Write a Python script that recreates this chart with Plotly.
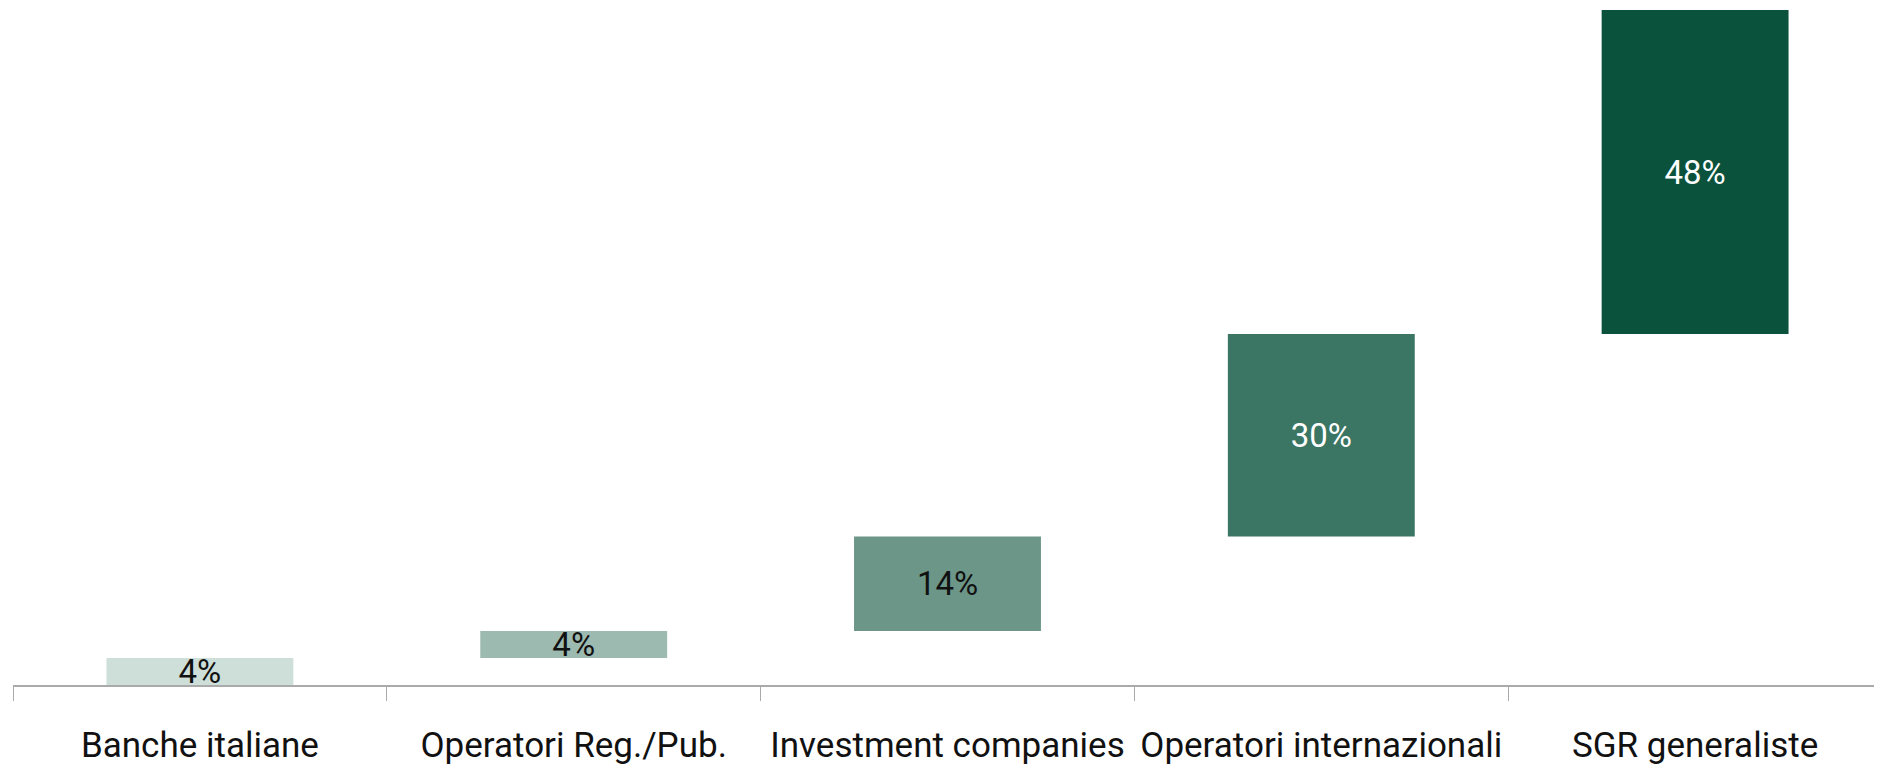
import plotly.graph_objects as go
import numpy as np

categories = ["Banche italiane", "Operatori Reg./Pub.", "Investment companies",
              "Operatori internazionali", "SGR generaliste"]
values = [4, 4, 14, 30, 48]
labels = ["4%", "4%", "14%", "30%", "48%"]
bar_colors = ["#cddfd8", "#9dbab0", "#6b9688", "#3b7563", "#0b523d"]
text_colors = ["#111111", "#111111", "#111111", "#ffffff", "#ffffff"]

bases = list(np.concatenate([[0], np.cumsum(values)[:-1]]))

fig = go.Figure(go.Bar(
    x=categories,
    y=values,
    base=bases,
    width=0.5,
    marker=dict(color=bar_colors, line=dict(width=0)),
    text=labels,
    textposition="inside",
    insidetextanchor="middle",
    constraintext="none",
    textangle=0,
    textfont=dict(family="Roboto", size=33, color=text_colors),
    cliponaxis=False,
    hoverinfo="skip",
))

fig.update_layout(
    width=1874, height=758,
    margin=dict(l=5, r=0, t=2, b=81),
    paper_bgcolor="white", plot_bgcolor="white",
    showlegend=False,
    bargap=0.5,
    xaxis=dict(
        type="category",
        range=[-0.5, 4.5],
        showline=True, linecolor="#aaaaaa", linewidth=2,
        ticks="outside", tickson="boundaries", ticklen=14, tickcolor="#aaaaaa", tickwidth=1,
        showgrid=False, zeroline=False,
        ticklabelstandoff=28,
        automargin=False,
        tickfont=dict(family="Roboto", size=35, color="#111111"),
    ),
    yaxis=dict(range=[0, 100], visible=False, showgrid=False, zeroline=False),
)

fig.write_html("out.html")
